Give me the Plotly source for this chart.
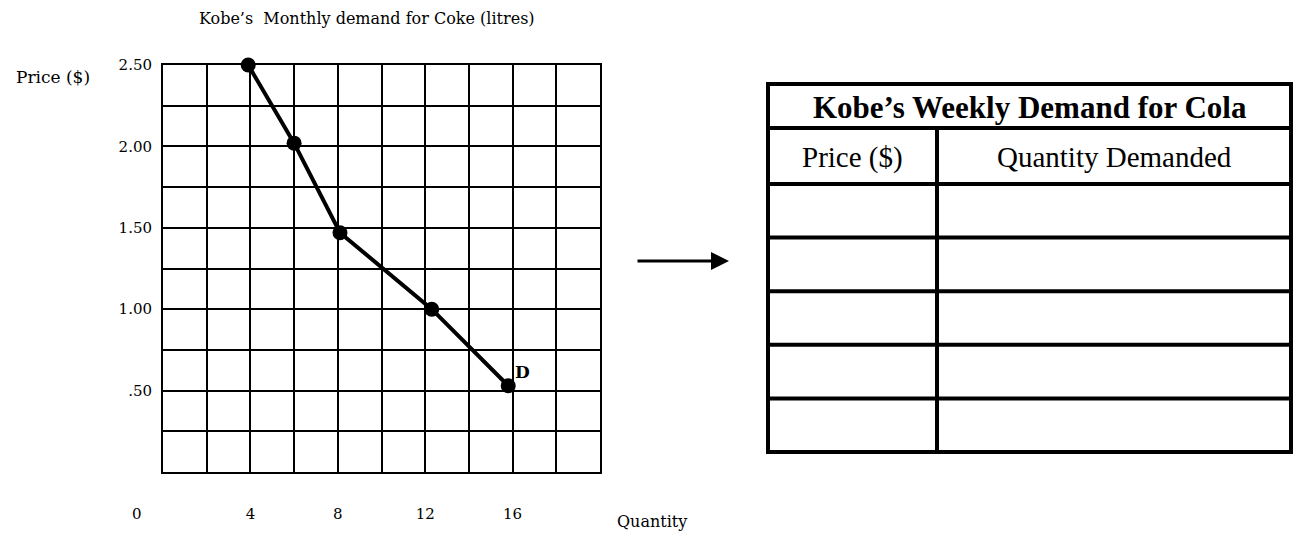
import plotly.graph_objects as go

# ---- data ----
quantity = [3.9, 6.0, 8.1, 12.3, 15.8]
price = [2.50, 2.02, 1.47, 1.00, 0.53]
x_tick_vals = [0, 4, 8, 12, 16]
x_tick_text = ["0", "4", "8", "12", "16"]
y_tick_vals = [0.5, 1.0, 1.5, 2.0, 2.5]
y_tick_text = [".50", "1.00", "1.50", "2.00", "2.50"]
chart_title = "Kobe\u2019s  Monthly demand for Coke (litres)"
curve_label = "D"
table_title = "Kobe\u2019s Weekly Demand for Cola"
table_headers = ["Price ($)", "Quantity Demanded"]
table_rows = 5

W, H = 1293, 539
def px(x):
    return x / W
def py(y):
    return 1 - y / H

CH_FONT = "DejaVu Serif"
TB_FONT = "Liberation Serif"

fig = go.Figure()
fig.add_trace(go.Scatter(
    x=quantity, y=price, mode="lines+markers",
    line=dict(color="black", width=4),
    marker=dict(color="black", size=15),
    cliponaxis=False, showlegend=False, hoverinfo="x+y",
))

axis_common = dict(
    showline=True, linecolor="black", linewidth=2, mirror=True,
    showgrid=True, gridcolor="black", gridwidth=2,
    zeroline=False, ticks="", fixedrange=True, automargin=False,
    tickfont=dict(family=CH_FONT, size=15, color="black"),
)
# the origin label "0" sits left of the grid corner in the reference, so it is
# drawn as an annotation; the other quantity labels are regular ticks
fig.update_xaxes(
    range=[0, 20], domain=[px(163), px(600)],
    tickmode="array", tickvals=x_tick_vals[1:], ticktext=x_tick_text[1:],
    ticklabelstandoff=27,
    minor=dict(dtick=2, tick0=0, showgrid=True, gridcolor="black", gridwidth=2, ticks=""),
    **axis_common,
)
fig.update_yaxes(
    range=[0, 2.5], domain=[py(472), py(65)],
    tickmode="array", tickvals=y_tick_vals, ticktext=y_tick_text,
    ticklabelstandoff=6,
    minor=dict(dtick=0.25, tick0=0, showgrid=True, gridcolor="black", gridwidth=2, ticks=""),
    **axis_common,
)

def ann(text, x, y, size, font=CH_FONT, **kw):
    d = dict(text=text, x=px(x), y=py(y), xref="paper", yref="paper",
             xanchor="center", yanchor="middle", showarrow=False,
             font=dict(family=font, size=size, color="black"))
    d.update(kw)
    return d

annotations = [
    ann(chart_title, 367, 18, 16),
    ann("Price ($)", 53, 77, 17),
    ann("Quantity", 652, 521, 16),
    dict(text=x_tick_text[0], x=x_tick_vals[0], y=py(514), xref="x", yref="paper",
         xanchor="center", yanchor="middle", xshift=-26, showarrow=False,
         font=dict(family=CH_FONT, size=15, color="black")),
    dict(text="<b>" + curve_label + "</b>", x=quantity[-1], y=price[-1], xref="x", yref="y",
         xanchor="left", yanchor="bottom", xshift=5, yshift=2,
         showarrow=False, font=dict(family=CH_FONT, size=17, color="black")),
    # arrow
    dict(text="", x=px(729), y=py(261), xref="paper", yref="paper",
         ax=-93, ay=0, showarrow=True, arrowhead=2, arrowsize=1.2,
         arrowwidth=3, arrowcolor="black"),
]

# ---- table ----
T_L, T_R, T_T, T_B = 768, 1291, 84, 452
title_bottom = 128
header_bottom = 184
col_div = 937
row_h = (T_B - header_bottom) / table_rows
shapes = []
LW = 4
def hline(y, x0=T_L - 2, x1=T_R + 2):
    shapes.append(dict(type="line", xref="paper", yref="paper",
                       x0=px(x0), x1=px(x1), y0=py(y), y1=py(y),
                       line=dict(color="black", width=LW)))
def vline(x, y0, y1):
    shapes.append(dict(type="line", xref="paper", yref="paper",
                       x0=px(x), x1=px(x), y0=py(y0), y1=py(y1),
                       line=dict(color="black", width=LW)))

hline(T_T)
hline(title_bottom)
hline(header_bottom)
for i in range(1, table_rows + 1):
    hline(header_bottom + i * row_h)
vline(T_L, T_T - 2, T_B + 2)
vline(T_R, T_T - 2, T_B + 2)
vline(col_div, title_bottom, T_B + 2)

annotations.append(ann("<b>" + table_title + "</b>", (T_L + T_R) / 2,
                       (T_T + title_bottom) / 2 + 1, 31, font=TB_FONT))
annotations.append(ann(table_headers[0], (T_L + col_div) / 2,
                       (title_bottom + header_bottom) / 2 + 1, 29, font=TB_FONT))
annotations.append(ann(table_headers[1], (col_div + T_R) / 2,
                       (title_bottom + header_bottom) / 2 + 1, 29, font=TB_FONT))

fig.update_layout(
    width=W, height=H,
    margin=dict(l=0, r=0, t=0, b=0),
    paper_bgcolor="white", plot_bgcolor="white",
    shapes=shapes, annotations=annotations,
    showlegend=False,
)

fig.write_html(
    "out.html",
    config={"displayModeBar": False},
    post_script="document.body.style.margin='0';document.body.style.padding='0';document.body.style.overflow='hidden';",
)
